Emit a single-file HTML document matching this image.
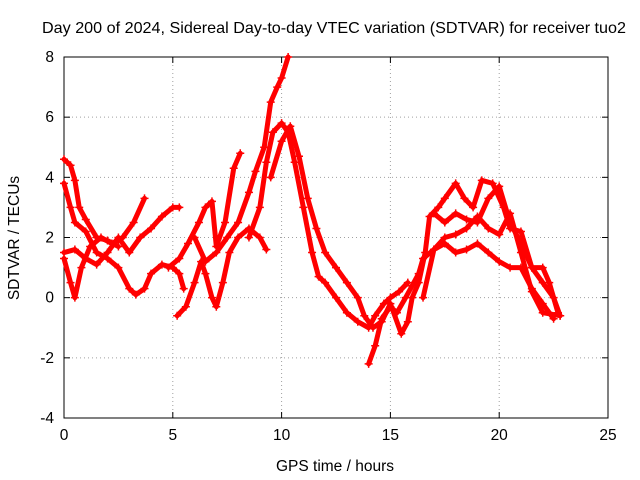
<!DOCTYPE html>
<html><head><meta charset="utf-8"><style>
body{margin:0;background:#fff}
svg{display:block;font-family:"Liberation Sans",sans-serif}
</style></head><body>
<svg id="chart" width="640" height="480">
<text x="42" y="33" textLength="584" lengthAdjust="spacingAndGlyphs" font-size="16">Day 200 of 2024, Sidereal Day-to-day VTEC variation (SDTVAR) for receiver tuo2</text>
<text x="335" y="471" text-anchor="middle" font-size="15.5">GPS time / hours</text>
<text transform="translate(19,238) rotate(-90)" text-anchor="middle" font-size="15.5">SDTVAR / TECUs</text>
<g id="grid"></g><g id="axes"></g><g id="series"></g>
</svg>
<script>
const xTicks=[0,5,10,15,20,25];
const yTicks=[-4,-2,0,2,4,6,8];
const s1=[[0,3.8],[0.3,3],[0.5,2.5],[1,2.2],[1.5,1.5],[2,1.3],[2.5,1.0],[3,0.3],[3.3,0.1],[3.7,0.3],[4,0.8],[4.5,1.1],[5,1.0],[5.3,0.8],[5.5,0.3]];
const s2=[[0,1.3],[0.3,0.5],[0.5,0],[0.8,1],[1.2,1.7],[1.7,2],[2.2,1.8],[2.7,2],[3.2,2.5],[3.7,3.3]];
const s3=[[0,1.5],[0.5,1.6],[1,1.3],[1.5,1.1],[2,1.5],[2.5,2],[3,1.5],[3.5,2],[4,2.3],[4.5,2.7],[5,3],[5.3,3]];
const s4=[[0,4.6],[0.3,4.4],[0.5,3.9],[0.7,3.0],[1,2.6],[1.5,2.0],[2,1.9],[2.5,1.7]];
const s5=[[4.8,1.0],[5.3,1.3],[5.7,1.8],[6.2,2.5],[6.5,3],[6.8,3.2],[7,1.7],[7.4,2.5],[7.8,4.3],[8.1,4.8]];
const s6=[[5.2,-0.6],[5.6,-0.3],[6,0.5],[6.3,1.2],[6.5,0.8],[6.8,0],[7,-0.3],[7.3,0.5],[7.6,1.5],[8,2],[8.5,2.3],[9,2.0],[9.3,1.6]];
const s7=[[6,2],[6.5,1.2],[7,1.5],[7.5,2.0],[8,2.5],[8.5,3.5],[8.8,4.2],[9.2,5],[9.5,6.5],[9.8,7],[10,7.3],[10.3,8]];
const s8=[[8.5,2],[9,3],[9.3,4.5],[9.6,5.5],[10,5.8],[10.3,5.5],[10.6,4.5],[11,3],[11.4,1.5],[11.7,0.7],[12,0.5],[12.5,0],[13,-0.5],[13.5,-0.8],[14,-1.0],[14.3,-0.6],[14.7,-0.2],[15,0],[15.4,0.2],[15.8,0.5]];
const s9=[[9.5,4],[10,5.2],[10.4,5.7],[10.8,4.7],[11.2,3.3],[11.6,2.3],[12,1.5],[12.5,1],[13,0.5],[13.5,0],[13.8,-0.6],[14.2,-1.0],[14.6,-0.8],[15,-0.2],[15.5,-1.2],[15.8,-0.8],[16,0],[16.3,0.5],[16.6,1.5],[16.8,2.7],[17.2,3],[17.5,3.3],[18,3.8],[18.4,3.3],[18.8,3],[19.2,3.9],[19.7,3.8],[20.2,3],[20.5,2.3],[21,2.2],[21.5,1],[22,0.5],[22.5,0],[22.8,-0.6]];
const s10=[[14,-2.2],[14.3,-1.6],[14.6,-0.7],[15,-0.3],[15.3,-0.5],[15.7,0],[16,0.4],[16.3,0.8],[16.5,1.3],[17,1.6],[17.5,2],[18,2.1],[18.5,2.3],[19,2.7],[19.5,2.3],[20,2.1],[20.5,2.8],[21,1.5],[21.5,0.2],[22,-0.5],[22.8,-0.6]];
const s11=[[16.5,0],[17,1.6],[17.5,1.8],[18,1.5],[18.5,1.6],[19,1.8],[19.5,1.5],[20,1.2],[20.5,1],[21,1.0],[21.5,0.3],[22,-0.2],[22.5,-0.7]];
const s12=[[17,2.8],[17.5,2.5],[18,2.8],[18.5,2.6],[19,2.5],[19.5,3.3],[20,3.7],[20.5,2.5],[21,1.8],[21.5,1],[22,1],[22.3,0.5],[22.7,-0.5]];
const allSeries=[s1,s2,s3,s4,s5,s6,s7,s8,s9,s10,s11,s12];
const L=64,R=608,T=57,B=418,xMin=0,xMax=25,yMin=-4,yMax=8;
const X=v=>L+(v-xMin)/(xMax-xMin)*(R-L);
const Y=v=>B-(v-yMin)/(yMax-yMin)*(B-T);
const NS="http://www.w3.org/2000/svg";
function mk(tag,attrs,parent){const e=document.createElementNS(NS,tag);for(const k in attrs)e.setAttribute(k,attrs[k]);parent.appendChild(e);return e;}
const grid=document.getElementById('grid'),axes=document.getElementById('axes'),ser=document.getElementById('series');
xTicks.forEach(t=>{
  if(t>xMin&&t<xMax){const g=mk('line',{x1:X(t),x2:X(t),y1:T,y2:B,stroke:'#a0a0a0','stroke-dasharray':'1,3'},grid);
  
  }
  mk('line',{x1:X(t),x2:X(t),y1:B,y2:B-6,stroke:'#000'},axes);
  mk('line',{x1:X(t),x2:X(t),y1:T,y2:T+6,stroke:'#000'},axes);
  const tx=mk('text',{x:X(t),y:B+22,'text-anchor':'middle','font-size':15.5},axes);tx.textContent=t;
  
  
});
yTicks.forEach(t=>{
  if(t>yMin&&t<yMax){const g=mk('line',{x1:L,x2:R,y1:Y(t),y2:Y(t),stroke:'#a0a0a0','stroke-dasharray':'1,3'},grid);
  
  }
  mk('line',{x1:L,x2:L+6,y1:Y(t),y2:Y(t),stroke:'#000'},axes);
  mk('line',{x1:R,x2:R-6,y1:Y(t),y2:Y(t),stroke:'#000'},axes);
  const tx=mk('text',{x:L-10,y:Y(t)+5,'text-anchor':'end','font-size':15.5},axes);tx.textContent=t;
  
  
});
const frame=mk('rect',{x:L,y:T,width:R-L,height:B-T,fill:'none',stroke:'#000'},axes);


allSeries.forEach((s,i)=>{
  const g=mk('g',{},ser);
  
  
  mk('polyline',{points:s.map(p=>X(p[0])+','+Y(p[1])).join(' '),fill:'none',stroke:'#ff0000','stroke-width':5,'stroke-linejoin':'round','stroke-linecap':'round'},g);
  s.forEach(p=>{
    const m=mk('path',{d:`M${X(p[0])-4},${Y(p[1])}h8M${X(p[0])},${Y(p[1])-4}v8`,stroke:'#ff0000','stroke-width':1.5},g);
    
    
  });
});
</script>
</body></html>
